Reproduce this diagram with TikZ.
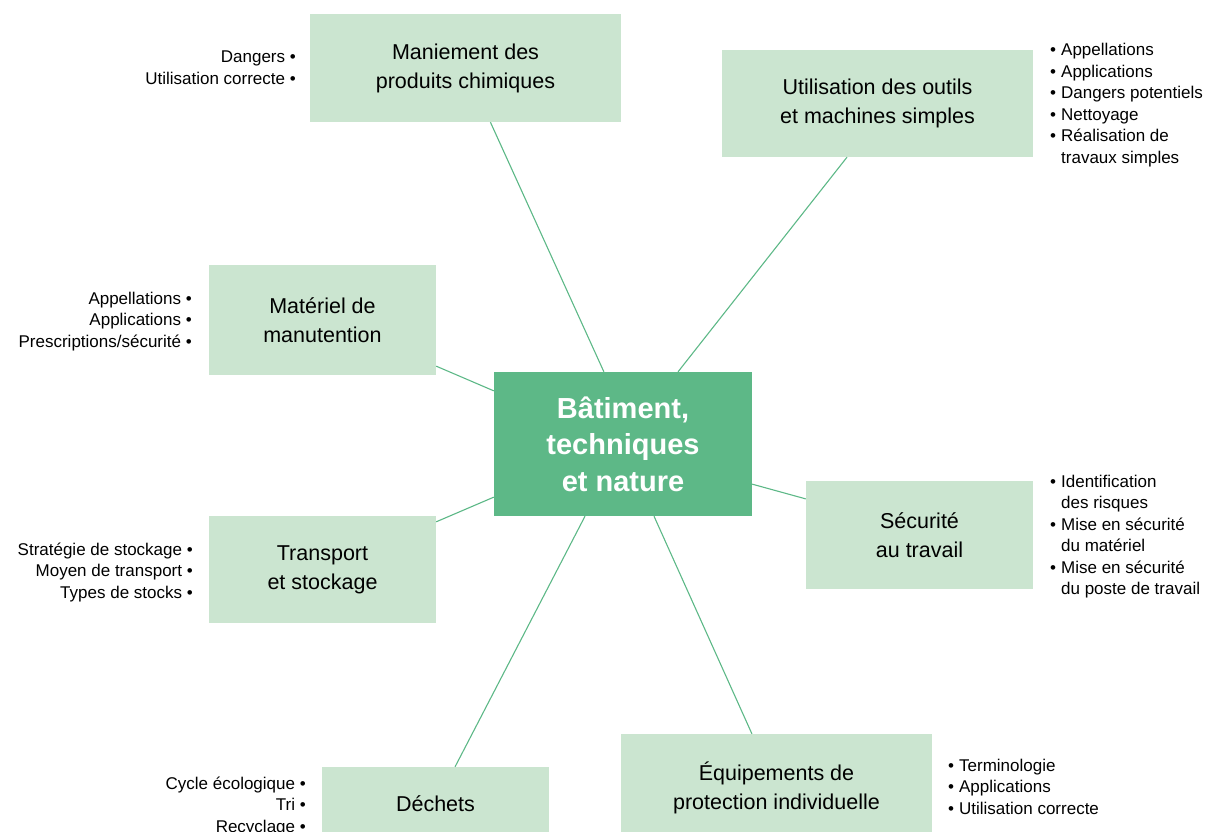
\documentclass[tikz,border=0pt]{standalone}
\usepackage{fontspec}
\setmainfont{Liberation Sans}
\usetikzlibrary{calc}
\definecolor{leaf}{HTML}{CBE5D0}
\definecolor{moss}{HTML}{5DB887}

\begin{document}
\begin{tikzpicture}
      [%%%%%%%%%%%%%%%%%%%%%%%%%%%%%%
          x=1pt,y=-1pt,
          topic/.style={rectangle,fill=leaf,align=center,inner sep=0pt,
                        font=\fontsize{21.5}{29}\selectfont},
          hub/.style={rectangle,fill=moss,text=white,align=center,inner sep=0pt,
                      font=\fontsize{29}{36.5}\selectfont\bfseries},
          link/.style={draw=moss,line width=1.1pt},
          lst/.style={inner sep=0pt,font=\fontsize{17}{21.5}\selectfont}
      ]%%%%%%%%%%%%%%%%%%%%%%%%%%%%%%

  \useasboundingbox (0,0) rectangle (1210,832);

  % centre
  \node[hub,minimum width=258pt,minimum height=144pt] (hub) at (623,444)
      {B\^atiment,\\techniques\\et nature};

  % themes
  \node[topic,minimum width=311pt,minimum height=108pt] (chem) at (465.5,68)
      {Maniement des\\produits chimiques};
  \node[topic,minimum width=311pt,minimum height=107pt] (tools) at (877.5,103.5)
      {Utilisation des outils\\et machines simples};
  \node[topic,minimum width=227pt,minimum height=110pt] (lift) at (322.5,320)
      {Mat\'eriel de\\manutention};
  \node[topic,minimum width=227pt,minimum height=108pt] (safe) at (919.5,535)
      {S\'ecurit\'e\\au travail};
  \node[topic,minimum width=227pt,minimum height=107pt] (store) at (322.5,569.5)
      {Transport\\et stockage};
  \node[topic,minimum width=311pt,minimum height=108pt] (ppe) at (776.5,788)
      {\'Equipements de\\protection individuelle};
  \node[topic,minimum width=227pt,minimum height=74pt] (waste) at (435.5,804)
      {D\'echets};

  % links
  \draw[link] ($(chem.south west)!0.58!(chem.south east)$) -- ($(hub.north west)!0.426!(hub.north east)$);
  \draw[link] ($(tools.south west)!0.402!(tools.south east)$) -- ($(hub.north west)!0.713!(hub.north east)$);
  \draw[link] ($(lift.north east)!0.918!(lift.south east)$) -- ($(hub.north west)!0.132!(hub.south west)$);
  \draw[link] ($(store.north east)!0.056!(store.south east)$) -- ($(hub.north west)!0.868!(hub.south west)$);
  \draw[link] ($(safe.north west)!0.167!(safe.south west)$) -- ($(hub.north east)!0.778!(hub.south east)$);
  \draw[link] ($(waste.north west)!0.586!(waste.north east)$) -- ($(hub.south west)!0.353!(hub.south east)$);
  \draw[link] ($(ppe.north west)!0.421!(ppe.north east)$) -- ($(hub.south west)!0.62!(hub.south east)$);

  % lists, left
  \node[lst,anchor=base east] (chemlst) at (296,63)
      {\begin{tabular}[t]{@{}r@{}}Dangers \textbullet\\Utilisation correcte \textbullet\end{tabular}};
  \node[lst,anchor=base east] (liftlst) at (192,304)
      {\begin{tabular}[t]{@{}r@{}}Appellations \textbullet\\Applications \textbullet\\Prescriptions/s\'ecurit\'e \textbullet\end{tabular}};
  \node[lst,anchor=base east] (storelst) at (193,555)
      {\begin{tabular}[t]{@{}r@{}}Strat\'egie de stockage \textbullet\\Moyen de transport \textbullet\\Types de stocks \textbullet\end{tabular}};
  \node[lst,anchor=base east] (wastelst) at (306,789)
      {\begin{tabular}[t]{@{}r@{}}Cycle \'ecologique \textbullet\\Tri \textbullet\\Recyclage \textbullet\end{tabular}};

  % lists, right
  \node[lst,anchor=base west] (toolslst) at (1050,56)
      {\begin{tabular}[t]{@{}l@{\hspace{5pt}}l@{}}\textbullet & Appellations\\ \textbullet & Applications\\
       \textbullet & Dangers potentiels\\ \textbullet & Nettoyage\\ \textbullet & R\'ealisation de\\ & travaux simples\end{tabular}};
  \node[lst,anchor=base west] (safelst) at (1050,487)
      {\begin{tabular}[t]{@{}l@{\hspace{5pt}}l@{}}\textbullet & Identification\\ & des risques\\
       \textbullet & Mise en s\'ecurit\'e\\ & du mat\'eriel\\ \textbullet & Mise en s\'ecurit\'e\\ & du poste de travail\end{tabular}};
  \node[lst,anchor=base west] (ppelst) at (948,771)
      {\begin{tabular}[t]{@{}l@{\hspace{5pt}}l@{}}\textbullet & Terminologie\\ \textbullet & Applications\\
       \textbullet & Utilisation correcte\end{tabular}};

\end{tikzpicture}
\end{document}
